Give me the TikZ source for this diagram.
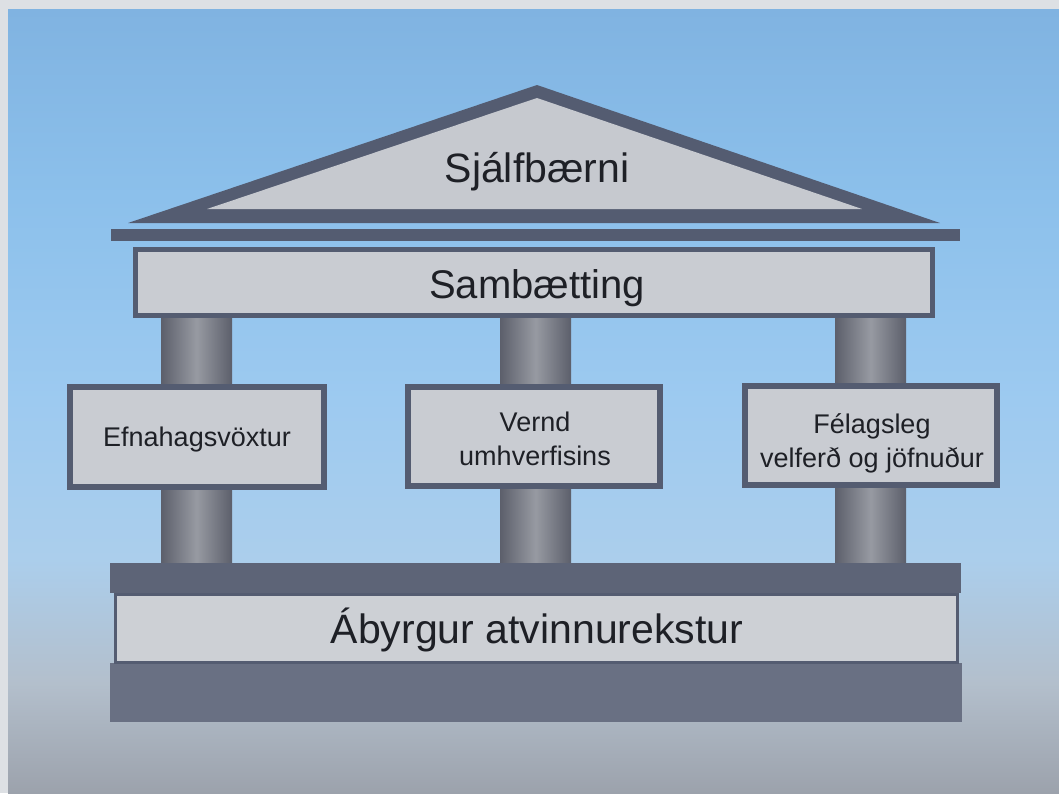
\documentclass[tikz,border=0pt]{standalone}
\usepackage{fontspec}
\setmainfont{Liberation Sans}
\definecolor{framec}{HTML}{DDE0E4}
\definecolor{skyA}{HTML}{80B3E1}
\definecolor{skyB}{HTML}{8CC0EB}
\definecolor{skyC}{HTML}{9DCAF0}
\definecolor{skyD}{HTML}{ABCEEC}
\definecolor{skyE}{HTML}{B3BFCC}
\definecolor{skyF}{HTML}{9CA2AC}
\definecolor{dk}{HTML}{545C71}
\definecolor{lt}{HTML}{C9CCD2}
\definecolor{roofin}{HTML}{C6C9CF}
\definecolor{bandlt}{HTML}{CDD0D5}
\definecolor{basetop}{HTML}{5D6477}
\definecolor{basebot}{HTML}{697083}
\definecolor{colE}{HTML}{5C5F6B}
\definecolor{colM}{HTML}{979AA2}
\definecolor{txt}{HTML}{1E2026}
\pgfdeclareverticalshading{skyshade}{100bp}{color(0bp)=(skyF); color(25bp)=(skyF); color(32bp)=(skyE); color(40bp)=(skyD); color(50bp)=(skyC); color(63bp)=(skyB); color(75bp)=(skyA); color(100bp)=(skyA)}
\begin{document}
\begin{tikzpicture}[x=1pt,y=-1pt,
  box/.style={draw=dk, line width=6pt, fill=lt, inner sep=0pt},
  pillar/.style={inner sep=0pt, minimum width=71pt, minimum height=245pt, left color=colE, right color=colE, middle color=colM},
  bigtxt/.style={text=txt, inner sep=0pt, anchor=base, font=\fontsize{41}{48}\selectfont},
  smalltxt/.style={text=txt, inner sep=0pt, align=center, font=\fontsize{27}{34}\selectfont}]
\useasboundingbox (0,0) rectangle (1059,793);
\fill[framec] (0,0) rectangle (1059,793);
\fill[shading=skyshade] (8,9) rectangle (1059,793);
% pillars
\node[pillar] (p1) at (196.5,440.5) {};
\node[pillar] (p2) at (535.5,440.5) {};
\node[pillar] (p3) at (870.5,440.5) {};
% roof
\fill[dk] (128,223) -- (537,85) -- (940,223) -- cycle;
\fill[roofin] (207,209) -- (537,98) -- (862,209) -- cycle;
\node[bigtxt] (roof) at (537,182) {Sjálfbærni};
% cornice
\fill[dk] (111,229) rectangle (960,241);
% architrave
\node[box, line width=5pt, minimum width=797pt, minimum height=66pt] (arch) at (534,282.5) {};
\node[bigtxt, font=\fontsize{40}{48}\selectfont] (archtxt) at (537,298) {Sambætting};
% middle boxes
\node[box, minimum width=254pt, minimum height=100pt] (b1) at (197,437) {};
\node[box, minimum width=252pt, minimum height=99pt] (b2) at (534,436.5) {};
\node[box, minimum width=252pt, minimum height=99pt] (b3) at (871,435.5) {};
\node[smalltxt, anchor=base] (t1) at (197,446) {Efnahagsvöxtur};
\node[smalltxt] (t2) at (535,439) {Vernd\\umhverfisins};
\node[smalltxt] (t3) at (872,443) {Félagsleg\\velferð og jöfnuður};
% base
\fill[basetop] (110,563) rectangle (961,593);
\fill[basebot] (110,663) rectangle (962,722);
\node[draw=dk, line width=3pt, fill=bandlt, inner sep=0pt, minimum width=842pt, minimum height=68pt] (band) at (536,628) {};
\node[bigtxt] (basetxt) at (537,643) {Ábyrgur atvinnurekstur};
\end{tikzpicture}
\end{document}
